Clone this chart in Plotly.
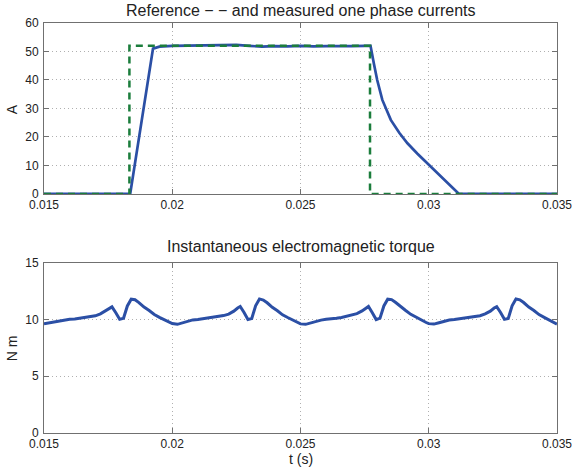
import plotly.graph_objects as go

# ---- Top plot: reference and measured phase current ----
ref_t = [0.015, 0.01833, 0.01833, 0.02771, 0.02771, 0.035]
ref_i = [0, 0, 52.0, 52.0, 0, 0]

meas_t = [0.015, 0.01836, 0.01925, 0.0195, 0.0200, 0.0205, 0.0210, 0.0215, 0.0220,
          0.0225, 0.0230, 0.0235, 0.0240, 0.0245, 0.0250, 0.0255, 0.0260, 0.0265,
          0.0270, 0.0275, 0.02773, 0.02786, 0.02799, 0.02819, 0.02852, 0.02885,
          0.02917, 0.02955, 0.02995, 0.03047, 0.03118, 0.035]
meas_i = [0, 0, 51.0, 51.7, 52.0, 52.1, 52.2, 52.2, 52.3, 52.3, 52.0, 51.7, 51.9,
          51.8, 52.0, 51.8, 51.9, 51.8, 51.9, 52.0, 52.0, 45.8, 40.0, 33.0, 26.0,
          21.5, 17.8, 14.2, 10.8, 6.1, 0, 0]

# ---- Bottom plot: electromagnetic torque ----
torque_t = [
    0.01500, 0.01520, 0.01540, 0.01560, 0.01580, 0.01600, 0.01620, 0.01640, 0.01660, 0.01680,
    0.01700, 0.01720, 0.01740, 0.01755, 0.01765, 0.01780, 0.01795, 0.01810, 0.01825, 0.01840,
    0.01855, 0.01870, 0.01890, 0.01910, 0.01930, 0.01950, 0.01970, 0.01990,
    0.02000, 0.02020, 0.02040, 0.02060, 0.02080, 0.02100, 0.02120, 0.02140, 0.02160, 0.02180,
    0.02200, 0.02220, 0.02240, 0.02255, 0.02265, 0.02280, 0.02295, 0.02310, 0.02325, 0.02340,
    0.02355, 0.02370, 0.02390, 0.02410, 0.02430, 0.02450, 0.02470, 0.02490,
    0.02500, 0.02520, 0.02540, 0.02560, 0.02580, 0.02600, 0.02620, 0.02640, 0.02660, 0.02680,
    0.02700, 0.02720, 0.02740, 0.02755, 0.02765, 0.02780, 0.02795, 0.02810, 0.02825, 0.02840,
    0.02855, 0.02870, 0.02890, 0.02910, 0.02930, 0.02950, 0.02970, 0.02990,
    0.03000, 0.03020, 0.03040, 0.03060, 0.03080, 0.03100, 0.03120, 0.03140, 0.03160, 0.03180,
    0.03200, 0.03220, 0.03240, 0.03255, 0.03265, 0.03280, 0.03295, 0.03310, 0.03325, 0.03340,
    0.03355, 0.03370, 0.03390, 0.03410, 0.03430, 0.03450, 0.03470, 0.03490,
    0.03500]
torque_v = [
    9.62, 9.70, 9.78, 9.90, 9.95, 10.02, 10.05, 10.12, 10.20, 10.28,
    10.33, 10.50, 10.75, 11.00, 11.12, 10.60, 10.02, 10.12, 11.20, 11.80,
    11.75, 11.50, 11.10, 10.80, 10.45, 10.20, 10.00, 9.75,
    9.65, 9.58, 9.72, 9.85, 9.97, 10.00, 10.07, 10.10, 10.22, 10.30,
    10.35, 10.48, 10.74, 11.02, 11.15, 10.62, 10.00, 10.10, 11.22, 11.82,
    11.72, 11.48, 11.08, 10.78, 10.42, 10.18, 9.98, 9.72,
    9.62, 9.58, 9.70, 9.86, 9.95, 10.02, 10.05, 10.12, 10.18, 10.30,
    10.36, 10.52, 10.76, 11.00, 11.16, 10.60, 10.00, 10.12, 11.20, 11.80,
    11.76, 11.52, 11.12, 10.80, 10.46, 10.20, 10.00, 9.74,
    9.64, 9.60, 9.72, 9.84, 9.96, 10.00, 10.06, 10.10, 10.20, 10.28,
    10.34, 10.50, 10.74, 11.02, 11.14, 10.62, 10.02, 10.10, 11.22, 11.82,
    11.74, 11.50, 11.10, 10.80, 10.44, 10.20, 9.98, 9.76,
    9.60]

x_ticks = [0.015, 0.02, 0.025, 0.03, 0.035]
x_labels = ["0.015", "0.02", "0.025", "0.03", "0.035"]
top_yticks = [0, 10, 20, 30, 40, 50, 60]
bot_yticks = [0, 5, 10, 15]

BLUE = "#2b4fa5"
GREEN = "#1b7d3c"
FONT = "Liberation Sans, Arial, sans-serif"
TXT = "#222222"

fig = go.Figure()
fig.add_trace(go.Scatter(x=meas_t, y=meas_i, mode="lines",
                         line=dict(color=BLUE, width=2.7), xaxis="x", yaxis="y"))
fig.add_trace(go.Scatter(x=ref_t, y=ref_i, mode="lines",
                         line=dict(color=GREEN, width=2.5, dash="7px,5px"), xaxis="x", yaxis="y"))
fig.add_trace(go.Scatter(x=torque_t, y=torque_v, mode="lines",
                         line=dict(color=BLUE, width=3), xaxis="x2", yaxis="y2"))

axis_common = dict(showline=True, linecolor="#707070", linewidth=1, mirror="ticks",
                   ticks="inside", ticklen=5, tickcolor="#707070", automargin=False,
                   showgrid=True, gridcolor="#b0b0b0", griddash="1px,3px", gridwidth=1,
                   zeroline=False, tickfont=dict(family=FONT, size=12, color=TXT))

fig.update_layout(
    width=573, height=473,
    margin=dict(l=44, r=16, t=23, b=40),
    paper_bgcolor="white", plot_bgcolor="white",
    showlegend=False,
    font=dict(family=FONT, color=TXT),
    xaxis=dict(domain=[0, 1], range=[0.015, 0.035], tickvals=x_ticks, ticktext=x_labels,
               anchor="y", **axis_common),
    yaxis=dict(domain=[0.583, 1], range=[0, 60], tickvals=top_yticks, anchor="x",
               ticklabelstandoff=2, **axis_common),
    xaxis2=dict(domain=[0, 1], range=[0.015, 0.035], tickvals=x_ticks, ticktext=x_labels,
                anchor="y2", **axis_common),
    yaxis2=dict(domain=[0, 0.415], range=[0, 15], tickvals=bot_yticks, anchor="x2",
                ticklabelstandoff=2, **axis_common),
    annotations=[
        dict(text="Reference \u2212 \u2212 and measured one phase currents", x=0.5, y=1,
             xref="paper", yref="paper", xanchor="center", yanchor="bottom", yshift=2,
             showarrow=False, font=dict(family=FONT, size=16, color=TXT)),
        dict(text="Instantaneous electromagnetic torque", x=0.5, y=0.415,
             xref="paper", yref="paper", xanchor="center", yanchor="bottom", yshift=6,
             showarrow=False, font=dict(family=FONT, size=16, color=TXT)),
        dict(text="t (s)", x=0.5, y=0, xref="paper", yref="paper", xanchor="center",
             yanchor="top", yshift=-16, showarrow=False,
             font=dict(family=FONT, size=14, color=TXT)),
        dict(text="A", x=-0.062, y=0.79, xref="paper", yref="paper", xanchor="center",
             yanchor="middle", textangle=-90, showarrow=False,
             font=dict(family=FONT, size=14, color=TXT)),
        dict(text="N m", x=-0.062, y=0.207, xref="paper", yref="paper", xanchor="center",
             yanchor="middle", textangle=-90, showarrow=False,
             font=dict(family=FONT, size=14, color=TXT)),
    ],
)

# remove the default 8px page margin so the figure fills the window exactly
fig.write_html("out.html", config={"displayModeBar": False},
               post_script="document.body.style.margin='0';document.body.style.overflow='hidden';")
